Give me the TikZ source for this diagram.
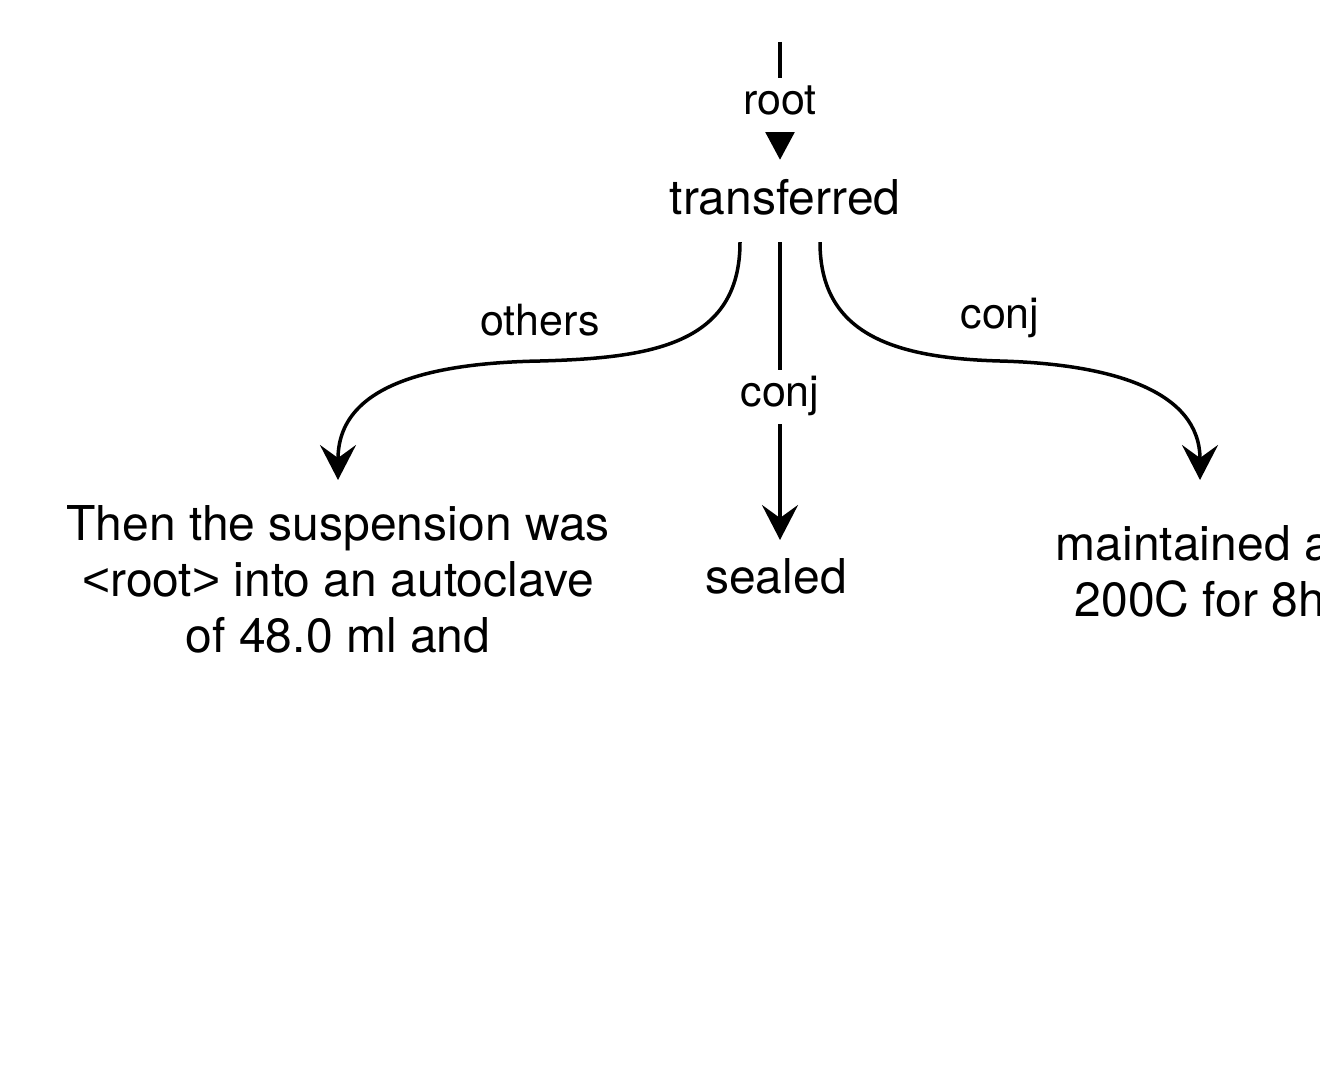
\documentclass[tikz,border=0pt]{standalone}
\usepackage{fontspec}
\setmainfont{TeX Gyre Heros}
\newfontfamily\bracketfont{Liberation Sans}
\usetikzlibrary{arrows.meta}
\begin{document}
\begin{tikzpicture}[x=1pt,y=-1pt,
  every node/.style={inner sep=0pt},
  nodetext/.style={font=\fontsize{48}{56}\selectfont, align=center},
  edgelbl/.style={font=\fontsize{43}{50}\selectfont, fill=white, text height=28pt, text depth=8pt, inner xsep=4pt, inner ysep=9pt},
  toplbl/.style={font=\fontsize{43}{50}\selectfont, anchor=base},
  link/.style={line width=3.5pt, -{Stealth[length=35pt,width=36pt,inset=13pt]}},
  rootlink/.style={line width=3.5pt, -{Triangle[length=28pt,width=29pt]}}
]
\useasboundingbox (0,0) rectangle (1320,1086);
\clip (0,0) rectangle (1320,1086);
\fill[white] (0,0) rectangle (1320,1086);

\node[nodetext, anchor=base, text height=38pt, text depth=10pt, inner ysep=17pt] (trans) at (785,215) {transferred};
\node[nodetext, anchor=north, inner ysep=25pt] (left) at (338,480) {Then the suspension was\\{\bracketfont<}root{\bracketfont>} into an autoclave\\of 48.0 ml and};
\node[nodetext, anchor=north, inner ysep=18.5pt] (sealed) at (776,540) {sealed};
\node[nodetext, anchor=north, inner ysep=45.5pt] (right) at (1200,480) {maintained at\\200C for 8h};

\coordinate (top) at (780,42);
\coordinate (lmid) at (540,361);
\coordinate (rmid) at (1000,361);

\draw[rootlink] (top) -- node[edgelbl, pos=0.534] {root} ([xshift=-5pt]trans.north);
\draw[link] ([xshift=-5pt]trans.south) -- node[edgelbl, pos=0.519] {conj} ([xshift=4pt]sealed.north);
\draw[link] ([xshift=-45pt]trans.south) .. controls +(0,103) and +(110,-3) .. (lmid)
  node[toplbl, yshift=26pt] {others}
  .. controls +(-110,2) and +(0,-95) .. (left.north);
\draw[link] ([xshift=35pt]trans.south) .. controls +(0,90) and +(-110,-3) .. (rmid)
  node[toplbl, yshift=33pt] {conj}
  .. controls +(110,3) and +(0,-90) .. (right.north);
\end{tikzpicture}
\end{document}
